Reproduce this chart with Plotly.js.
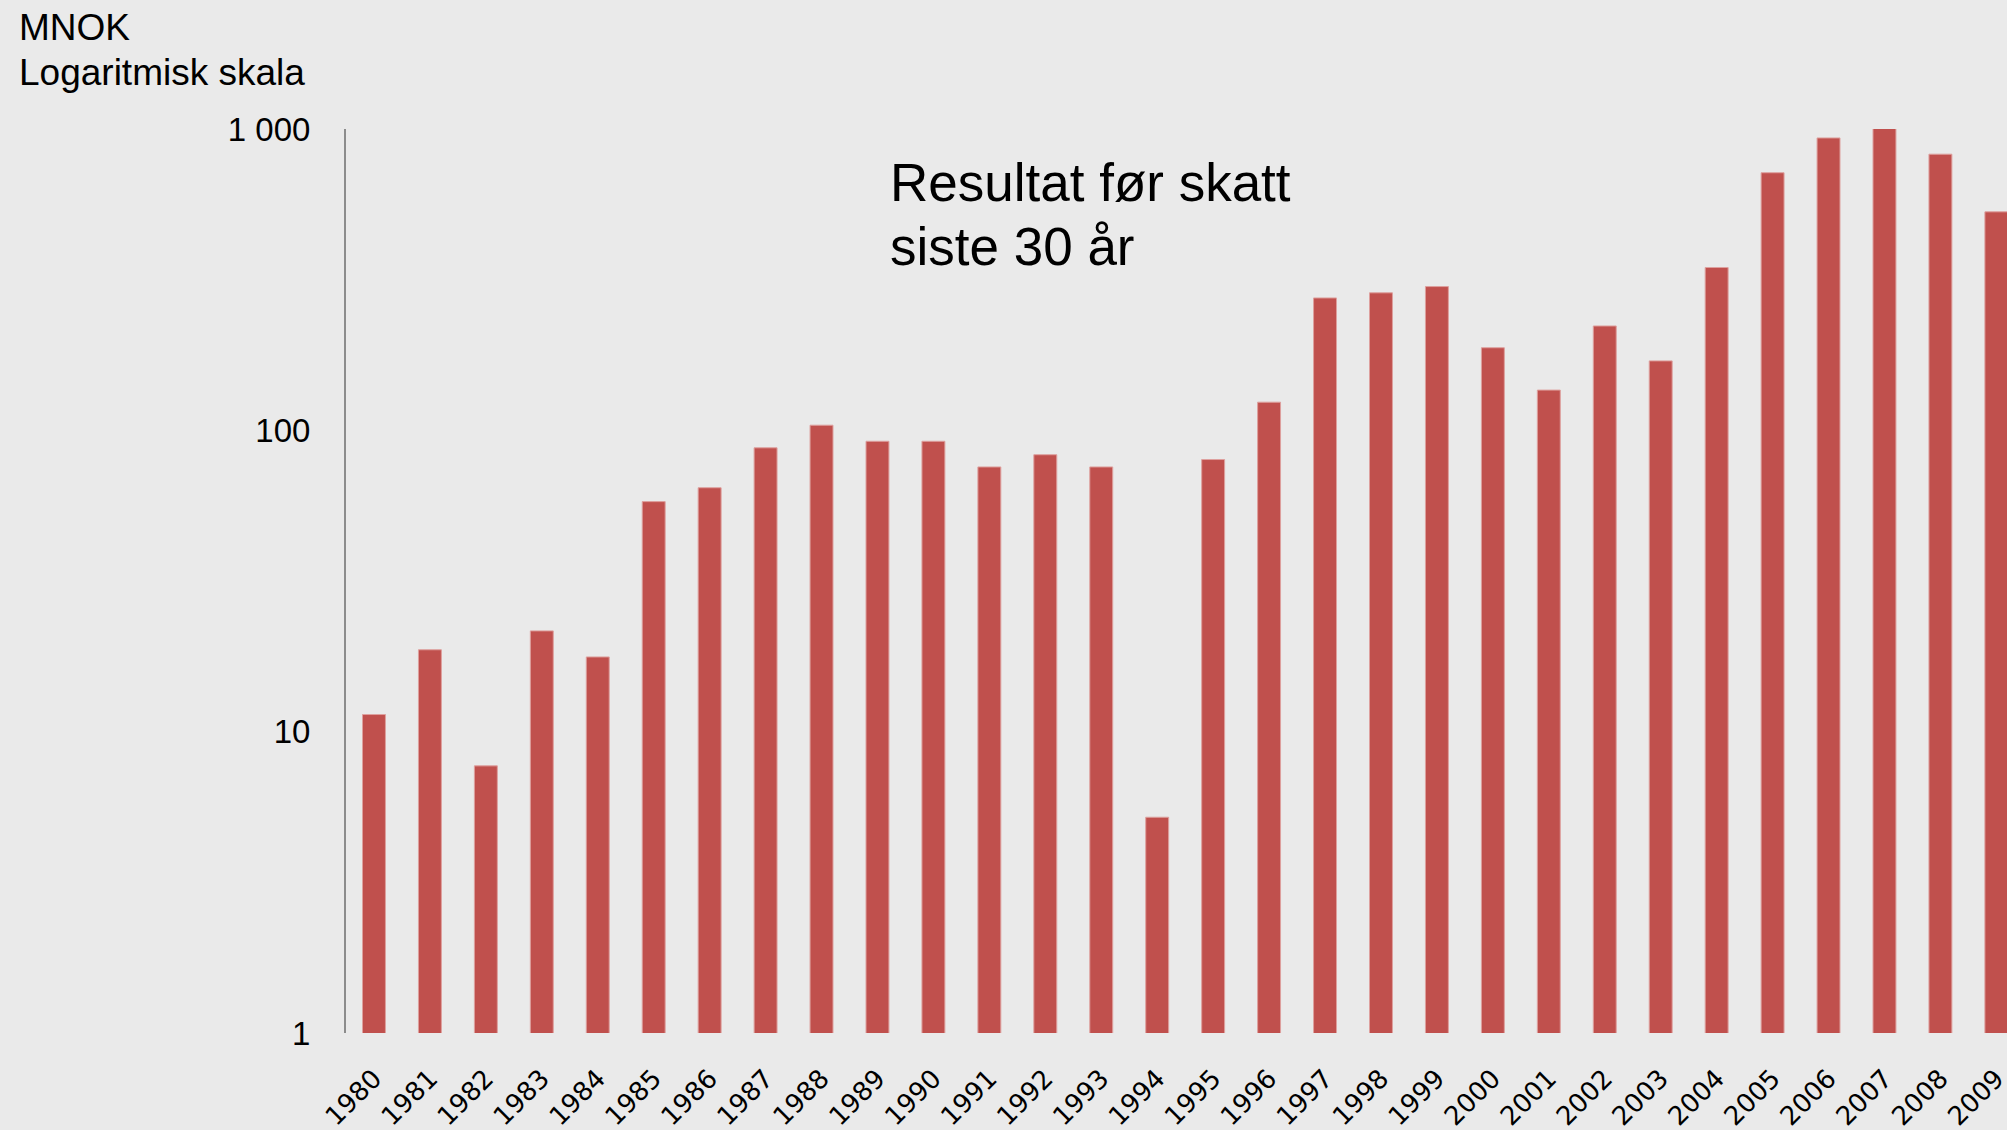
<!DOCTYPE html>
<html>
<head>
<meta charset="utf-8">
<script src="https://cdn.plot.ly/plotly-3.0.1.min.js"></script>
<style>
  html, body { margin: 0; padding: 0; background: #eaeaea; overflow: hidden; }
  #chart { width: 2007px; height: 1130px; }
</style>
</head>
<body>
<div id="chart"></div>
<script>
// Years (categories)
const years = ["1980","1981","1982","1983","1984","1985","1986","1987","1988","1989",
               "1990","1991","1992","1993","1994","1995","1996","1997","1998","1999",
               "2000","2001","2002","2003","2004","2005","2006","2007","2008","2009"];
// Resultat før skatt, MNOK
const resultat = [11.4, 18.7, 7.7, 21.6, 17.7, 58, 64.5, 87.5, 104, 92,
                  92, 75.6, 83, 75.6, 5.2, 80, 124, 275, 286, 300,
                  188, 136, 222, 170, 347, 716, 934, 1030, 825, 531];
// Y tick labels
const yTickVals = [1, 10, 100, 1000];
const yTickText = ["1", "10", "100", "1 000"];

const trace = {
  type: 'bar',
  x: years,
  y: resultat,
  width: 0.41,
  marker: { color: '#c0504d', line: { color: 'rgba(222,160,158,1)', width: 1 } },
  cliponaxis: false,
  hoverinfo: 'x+y'
};

const W = 2007, H = 1130;
const mL = 346, mR = 0, mT = 129, mB = 97;
const plotH = H - mT - mB;
const plotW = W - mL - mR;
function py(pix) { return (H - mB - pix) / plotH; }
function px(pix) { return (pix - mL) / plotW; }

const layout = {
  width: W, height: H,
  margin: { l: mL, r: mR, t: mT, b: mB, pad: 0 },
  paper_bgcolor: '#eaeaea',
  plot_bgcolor: '#eaeaea',
  showlegend: false,
  bargap: 0.59,
  xaxis: {
    type: 'category',
    range: [-0.5, 29.19],
    showgrid: false, zeroline: false, showline: false,
    ticks: '',
    tickangle: -45,
    tickfont: { family: 'DejaVu Sans', size: 26, color: '#000' },
    ticklabelstandoff: 24,
    fixedrange: true
  },
  yaxis: {
    type: 'log',
    range: [0, 3],
    showgrid: false, zeroline: false,
    showline: true, linecolor: '#8c8c8c', linewidth: 2,
    ticks: '',
    tickvals: yTickVals,
    ticktext: yTickText,
    tickfont: { family: 'Liberation Sans, Arial, sans-serif', size: 33, color: '#000' },
    ticklabelstandoff: 27,
    fixedrange: true
  },
  annotations: [
    { xref: 'paper', yref: 'paper', x: px(17), y: py(27), xanchor: 'left', yanchor: 'middle',
      text: 'MNOK', showarrow: false,
      font: { family: 'Liberation Sans, Arial, sans-serif', size: 37, color: '#000' } },
    { xref: 'paper', yref: 'paper', x: px(17), y: py(72.5), xanchor: 'left', yanchor: 'middle',
      text: 'Logaritmisk skala', showarrow: false,
      font: { family: 'Liberation Sans, Arial, sans-serif', size: 37, color: '#000' } },
    { xref: 'paper', yref: 'paper', x: px(888), y: py(182), xanchor: 'left', yanchor: 'middle',
      text: 'Resultat før skatt', showarrow: false,
      font: { family: 'Liberation Sans, Arial, sans-serif', size: 53, color: '#000' } },
    { xref: 'paper', yref: 'paper', x: px(888), y: py(246), xanchor: 'left', yanchor: 'middle',
      text: 'siste 30 år', showarrow: false,
      font: { family: 'Liberation Sans, Arial, sans-serif', size: 53, color: '#000' } }
  ]
};

Plotly.newPlot('chart', [trace], layout, { displayModeBar: false, staticPlot: true });
</script>
</body>
</html>
